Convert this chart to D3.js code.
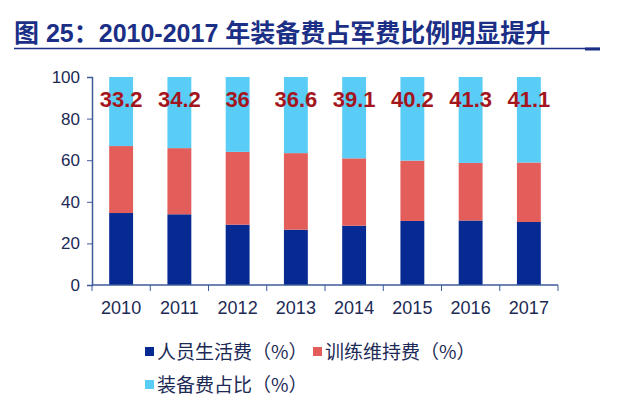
<!DOCTYPE html>
<html>
<head>
<meta charset="utf-8">
<script src="https://cdn.jsdelivr.net/npm/d3@7"></script>
<style>
  body { margin: 0; background: #fff; }
  svg { display: block; font-family: Arial, "Liberation Sans", "Noto Sans CJK SC", sans-serif; }
</style>
</head>
<body>
<svg id="chart" width="640" height="414"></svg>
<script>
// data
var years = ['2010', '2011', '2012', '2013', '2014', '2015', '2016', '2017'];
var personnel = [34.6, 34.0, 29.0, 26.6, 28.5, 30.8, 31.0, 30.3];
var training = [32.2, 31.8, 35.0, 36.8, 32.4, 29.0, 27.7, 28.6];
var equipment = [33.2, 34.2, 36, 36.6, 39.1, 40.2, 41.3, 41.1];
var equipLabels = ['33.2', '34.2', '36', '36.6', '39.1', '40.2', '41.3', '41.1'];
var seriesNames = ['人员生活费（%）', '训练维持费（%）', '装备费占比（%）'];
var yTicks = [0, 20, 40, 60, 80, 100];

var colors = ['#062a92', '#e35d5b', '#5acdf6'];

var svg = d3.select('#chart');

// title
svg.append('text')
    .attr('x', 14).attr('y', 42)
    .attr('fill', '#1b2f86')
    .style('font-size', '25px').style('font-weight', 'bold')
    .style('font-family', 'Arial, "Liberation Sans", "Noto Sans CJK SC", sans-serif')
    .text('图 25：2010-2017 年装备费占军费比例明显提升');
svg.append('line')
    .attr('x1', 14).attr('x2', 600).attr('y1', 48.5).attr('y2', 48.5)
    .attr('stroke', '#1b2f86').attr('stroke-width', 1.5);
svg.append('line')
    .attr('x1', 585).attr('x2', 600).attr('y1', 49).attr('y2', 49)
    .attr('stroke', '#1b2f86').attr('stroke-width', 3);

var plotLeft = 92, plotRight = 558, plotTop = 77, plotBottom = 285;

var x = d3.scaleBand().domain(years).range([plotLeft, plotRight]).paddingInner(0.59).paddingOuter(0.295);
var y = d3.scaleLinear().domain([0, 100]).range([plotBottom, plotTop]);

var rows = years.map(function (yr, i) {
    return { year: yr, p: personnel[i], t: training[i], e: equipment[i] };
});
var stack = d3.stack().keys(['p', 't', 'e']);
var layers = stack(rows);

var g = svg.append('g');
g.selectAll('g.layer').data(layers).enter().append('g')
    .attr('fill', function (d, i) { return colors[i]; })
    .selectAll('rect').data(function (d) { return d; }).enter().append('rect')
    .attr('x', function (d) { return x(d.data.year); })
    .attr('width', x.bandwidth())
    .attr('y', function (d) { return y(Math.min(d[1], 100)); })
    .attr('height', function (d) { return y(d[0]) - y(Math.min(d[1], 100)); });

// value labels for equipment share
g.selectAll('text.val').data(equipLabels).enter().append('text')
    .attr('class', 'val')
    .attr('x', function (d, i) { return x(years[i]) + x.bandwidth() / 2; })
    .attr('y', 107)
    .attr('text-anchor', 'middle')
    .attr('fill', '#a3161d')
    .style('font-size', '22px').style('font-weight', 'bold')
    .text(function (d) { return d; });

// y axis
var yAxis = svg.append('g').attr('transform', 'translate(' + plotLeft + ',0)')
    .call(d3.axisLeft(y).tickValues(yTicks).tickSize(5).tickPadding(7));
yAxis.select('.domain').attr('stroke', '#3d5a99').attr('stroke-width', 1.5);
yAxis.selectAll('.tick line').attr('stroke', '#3d5a99');
yAxis.selectAll('.tick text').attr('fill', '#1c2a55').style('font-size', '17px');

// x axis with ticks at band edges
var xAxis = svg.append('g').attr('transform', 'translate(0,' + plotBottom + ')');
xAxis.append('line').attr('x1', plotLeft).attr('x2', plotRight).attr('stroke', '#3d5a99').attr('stroke-width', 1.5);
var edges = years.map(function (d) { return x(d) - x.step() * x.paddingInner() / 2; }).concat([plotRight]);
xAxis.selectAll('line.edge').data(edges).enter().append('line')
    .attr('class', 'edge')
    .attr('x1', function (d) { return d; }).attr('x2', function (d) { return d; })
    .attr('y1', 0).attr('y2', 6)
    .attr('stroke', '#3d5a99');
xAxis.selectAll('text').data(years).enter().append('text')
    .attr('x', function (d) { return x(d) + x.bandwidth() / 2; })
    .attr('y', 29)
    .attr('text-anchor', 'middle')
    .attr('fill', '#1c2a55')
    .style('font-size', '18px')
    .text(function (d) { return d; });

// legend
var legendPos = [[145, 352], [313, 352], [145, 385]];
var legend = svg.selectAll('g.legend').data(seriesNames).enter().append('g')
    .attr('transform', function (d, i) { return 'translate(' + legendPos[i][0] + ',' + legendPos[i][1] + ')'; });
legend.append('rect').attr('x', 0).attr('y', -5).attr('width', 9).attr('height', 9)
    .attr('fill', function (d, i) { return colors[i]; });
legend.append('text').attr('x', 12).attr('y', 7)
    .attr('fill', '#1c2a55')
    .style('font-size', '19px')
    .style('font-family', '"Noto Sans CJK SC", sans-serif')
    .text(function (d) { return d; });
</script>
</body>
</html>
